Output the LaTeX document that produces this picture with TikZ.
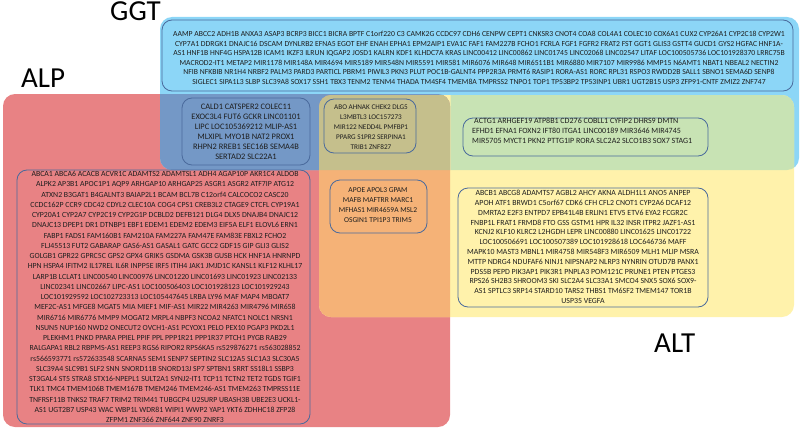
\documentclass[tikz,border=0pt]{standalone}
\usepackage{fontspec}
\setmainfont{Carlito}
\definecolor{ggtblue}{HTML}{8CD6F7}
\definecolor{alpred}{HTML}{E88284}
\definecolor{altyellow}{HTML}{FFF2AB}
\definecolor{steel}{HTML}{7498C6}
\definecolor{khaki}{HTML}{C5BF8C}
\definecolor{lgreen}{HTML}{C8E3B4}
\definecolor{lorange}{HTML}{F5B277}
\definecolor{boxline}{HTML}{4A6A9C}
\definecolor{gtext}{HTML}{1E1E1E}
\tikzset{
  region/.style={rounded corners=12pt},
  genebox/.style={draw=boxline, line width=0.8pt, rounded corners=10pt},
  genetext/.style={align=center, text=gtext, inner sep=0pt},
  setlabel/.style={font=\fontsize{29}{29}\selectfont, inner sep=0pt, anchor=base west},
}
\newcommand{\ALPpath}{(3,94) rectangle (450,427)}
\newcommand{\GGTpath}{(160,17) rectangle (799,170)}
\newcommand{\ALTpath}{(319,95) rectangle (794,317)}
\begin{document}
\begin{tikzpicture}[x=1pt,y=-1pt]
\useasboundingbox (0,0) rectangle (800,428);
% base regions
\fill[alpred, region] \ALPpath;
\fill[ggtblue, region] \GGTpath;
\fill[altyellow, region] \ALTpath;
% intersections
\begin{scope}
  \clip[region] \ALPpath;
  \fill[steel, region] \GGTpath;
  \fill[lorange, region] \ALTpath;
  \clip[region] \GGTpath;
  \fill[khaki, region] \ALTpath;
\end{scope}
\begin{scope}
  \clip[region] \GGTpath;
  \clip[region] (450.5,0) rectangle (800,428);
  \fill[lgreen, region] \ALTpath;
\end{scope}
% labels
\node[setlabel] (ggtlabel) at (110,20.8) {GGT};
\node[setlabel] (alplabel) at (21,87) {ALP};
\node[setlabel] (altlabel) at (654,352) {ALT};
% boxes
\draw[genebox] (162,20) rectangle (793,91);
\draw[genebox] (182,98) rectangle (310,165);
\draw[genebox] (324,99) rectangle (416,153);
\draw[genebox] (463,118) rectangle (708,156);
\draw[genebox] (330,180) rectangle (427,233);
\draw[genebox] (458,188) rectangle (708,307);
\draw[genebox] (17,170) rectangle (310,424);
% texts
\node[genetext, font=\fontsize{7.7}{9.5}\selectfont] (ggttext) at (479,58) {%
AAMP ABCC2 ADH1B ANXA3 ASAP3 BCRP3 BICC1 BICRA BPTF C1orf220 C3 CAMK2G CCDC97 CDH6 CENPW CEPT1 CNKSR3 CNOT4 COA8 COL4A1 COLEC10 COX6A1 CUX2 CYP26A1 CYP2C18 CYP2W1\\
CYP7A1 DDRGK1 DNAJC16 DSCAM DYNLRB2 EFNA5 EGOT EHF ENAH EPHA1 EPM2AIP1 EVA1C FAF1 FAM227B FCHO1 FCRLA FGF1 FGFR2 FRAT2 FST GGT1 GLIS3 GSTT4 GUCD1 GYS2 HGFAC HNF1A-\\
AS1 HNF1B HNF4G HSPA12B ICAM1 IKZF3 ILRUN IQGAP2 JOSD1 KALRN KDF1 KLHDC7A KRAS LINC00412 LINC00862 LINC01745 LINC02068 LINC02547 LITAF LOC100505736 LOC101928370 LRRC75B\\
MACROD2-IT1 METAP2 MIR1178 MIR148A MIR4694 MIR5189 MIR548N MIR5591 MIR581 MIR6076 MIR648 MIR6511B1 MIR6880 MIR7107 MIR9986 MMP15 N6AMT1 NBAT1 NBEAL2 NECTIN2\\
NFIB NFKBIB NR1H4 NRBF2 PALM3 PARD3 PARTICL PBRM1 PIWIL3 PKN3 PLUT POC1B-GALNT4 PPP2R3A PRMT6 RASIP1 RORA-AS1 RORC RPL31 RSPO3 RWDD2B SALL1 SBNO1 SEMA6D SENP8\\
SIGLEC1 SIPA1L3 SLBP SLC39A8 SOX17 SSH1 TBX3 TENM2 TENM4 THADA TM4SF4 TMEM8A TMPRSS2 TNPO1 TOP1 TP53BP2 TP53INP1 UBR1 UGT2B15 USP3 ZFP91-CNTF ZMIZ2 ZNF747};
\node[genetext, font=\fontsize{8.4}{10}\selectfont] (alpggttext) at (246,132) {%
CALD1 CATSPER2 COLEC11\\EXOC3L4 FUT6 GCKR LINC01101\\LIPC LOC105369212 MLIP-AS1\\MLXIPL MYO1B NAT2 PROX1\\RHPN2 RREB1 SEC16B SEMA4B\\SERTAD2 SLC22A1};
\node[genetext, font=\fontsize{7.2}{10}\selectfont] (alltext) at (371,127) {%
ABO AHNAK CHEK2 DLG5\\L3MBTL3 LOC157273\\MIR122 NEDD4L PMFBP1\\PPARG S1PR2 SERPINA1\\TRIB1 ZNF827};
\node[genetext, align=left, anchor=west, font=\fontsize{8}{10}\selectfont] (ggtalttext) at (472,131) {%
\hspace{2pt}ACTG1 ARHGEF19 ATP8B1 CD276 COBLL1 CYFIP2 DHRS9 DMTN\\EFHD1 EFNA1 FOXN2 IFT80 ITGA1 LINC00189 MIR3646 MIR4745\\MIR5705 MYCT1 PKN2 PTTG1IP RORA SLC2A2 SLCO1B3 SOX7 STAG1};
\node[genetext, font=\fontsize{7.5}{10}\selectfont] (alpalttext) at (378,205) {%
APOE APOL3 GPAM\\MAFB MAFTRR MARC1\\MFHAS1 MIR4659A MSL2\\OSGIN1 TPI1P3 TRIM5};
\node[genetext, font=\fontsize{7.85}{9.8}\selectfont] (alttext) at (583,247) {%
ABCB1 ABCG8 ADAMTS7 AGBL2 AHCY AKNA ALDH1L1 ANO5 ANPEP\\
APOH ATF1 BRWD1 C5orf67 CDK6 CFH CFL2 CNOT1 CYP2A6 DCAF12\\
DMRTA2 E2F3 ENTPD7 EPB41L4B ERLIN1 ETV5 ETV6 EYA2 FCGR2C\\
FNBP1L FRAT1 FRMD8 FTO GSS GSTM1 HPR IL32 INSR ITPR2 JAZF1-AS1\\
KCNJ2 KLF10 KLRC2 L2HGDH LEPR LINC00880 LINC01625 LINC01722\\
LOC100506691 LOC100507389 LOC101928618 LOC646736 MAFF\\
MAPK10 MAST3 MBNL1 MIR4758 MIR548F3 MIR6509 MLH1 MLIP MSRA\\
MTTP NDRG4 NDUFAF6 NINJ1 NIPSNAP2 NLRP3 NYNRIN OTUD7B PANX1\\
PDS5B PEPD PIK3AP1 PIK3R1 PNPLA3 POM121C PRUNE1 PTEN PTGES3\\
RPS26 SH2B3 SHROOM3 SKI SLC2A4 SLC33A1 SMCO4 SNX5 SOX6 SOX9-\\
AS1 SPTLC3 SRP14 STARD10 TARS2 THBS1 TM6SF2 TMEM147 TOR1B\\
USP35 VEGFA};
\node[genetext, font=\fontsize{7.8}{10.25}\selectfont] (alptext) at (165,297) {%
ABCA1 ABCA6 ACACB ACVR1C ADAMTS2 ADAMTSL1 ADH4 AGAP10P AKR1C4 ALDOB\\
ALPK2 AP3B1 APOC1P1 AQP9 ARHGAP10 ARHGAP25 ASGR1 ASGR2 ATF7IP ATG12\\
ATXN2 B3GAT1 B4GALNT3 BAIAP2L1 BCAM BCL7B C12orf4 CALCOCO2 CASC20\\
CCDC162P CCR9 CDC42 CDYL2 CLEC10A COG4 CPS1 CREB3L2 CTAGE9 CTCFL CYP19A1\\
CYP20A1 CYP2A7 CYP2C19 CYP2G1P DCBLD2 DEFB121 DLG4 DLX5 DNAJB4 DNAJC12\\
DNAJC13 DPEP1 DR1 DTNBP1 EBF1 EDEM1 EDEM2 EDEM3 EIF5A ELF1 ELOVL6 ERN1\\
FABP1 FADS1 FAM160B1 FAM210A FAM227A FAM47E FAM83E FBXL2 FCHO2\\
FLJ45513 FUT2 GABARAP GAS6-AS1 GASAL1 GATC GCC2 GDF15 GIP GLI3 GLIS2\\
GOLGB1 GPR22 GPRC5C GPS2 GPX4 GRIK5 GSDMA GSK3B GUSB HCK HNF1A HNRNPD\\
HPN HSPA4 IFITM2 IL17REL IL6R INPP5E IRF5 ITIH4 JAK1 JMJD1C KANSL1 KLF12 KLHL17\\
LARP1B LCLAT1 LINC00540 LINC00976 LINC01220 LINC01693 LINC01923 LINC02133\\
LINC02341 LINC02667 LIPC-AS1 LOC100506403 LOC101928123 LOC101929243\\
LOC101929592 LOC102723313 LOC105447645 LRBA LY96 MAF MAP4 MBOAT7\\
MEF2C-AS1 MFGE8 MGAT5 MIA MIEF1 MIF-AS1 MIR22 MIR4263 MIR4796 MIR658\\
MIR6716 MIR6776 MMP9 MOGAT2 MRPL4 NBPF3 NCOA2 NFATC1 NOLC1 NRSN1\\
NSUN5 NUP160 NWD2 ONECUT2 OVCH1-AS1 PCYOX1 PELO PEX10 PGAP3 PKD2L1\\
PLEKHM1 PNKD PPARA PPIEL PPIF PPL PPP1R21 PPP1R37 PTCH1 PYGB RAB29\\
RALGAPA1 RBL2 RBPMS-AS1 REEP3 RGS6 RIPOR2 RPS6KA5 rs529876271 rs563028852\\
rs566593771 rs572633548 SCARNA5 SEM1 SENP7 SEPTIN2 SLC12A5 SLC1A3 SLC30A5\\
SLC39A4 SLC9B1 SLF2 SNN SNORD11B SNORD13J SP7 SPTBN1 SRRT SS18L1 SSBP3\\
ST3GAL4 ST5 STRA8 STX16-NPEPL1 SULT2A1 SYNJ2-IT1 TCP11 TCTN2 TET2 TGDS TGIF1\\
TLK1 TMC4 TMEM106B TMEM167B TMEM246 TMEM246-AS1 TMEM263 TMPRSS11E\\
TNFRSF11B TNKS2 TRAF7 TRIM2 TRIM41 TUBGCP4 U2SURP UBASH3B UBE2E3 UCKL1-\\
AS1 UGT2B7 USP43 WAC WBP1L WDR81 WIPI1 WWP2 YAP1 YKT6 ZDHHC18 ZFP28\\
ZFPM1 ZNF366 ZNF644 ZNF90 ZNRF3};
\end{tikzpicture}
\end{document}
